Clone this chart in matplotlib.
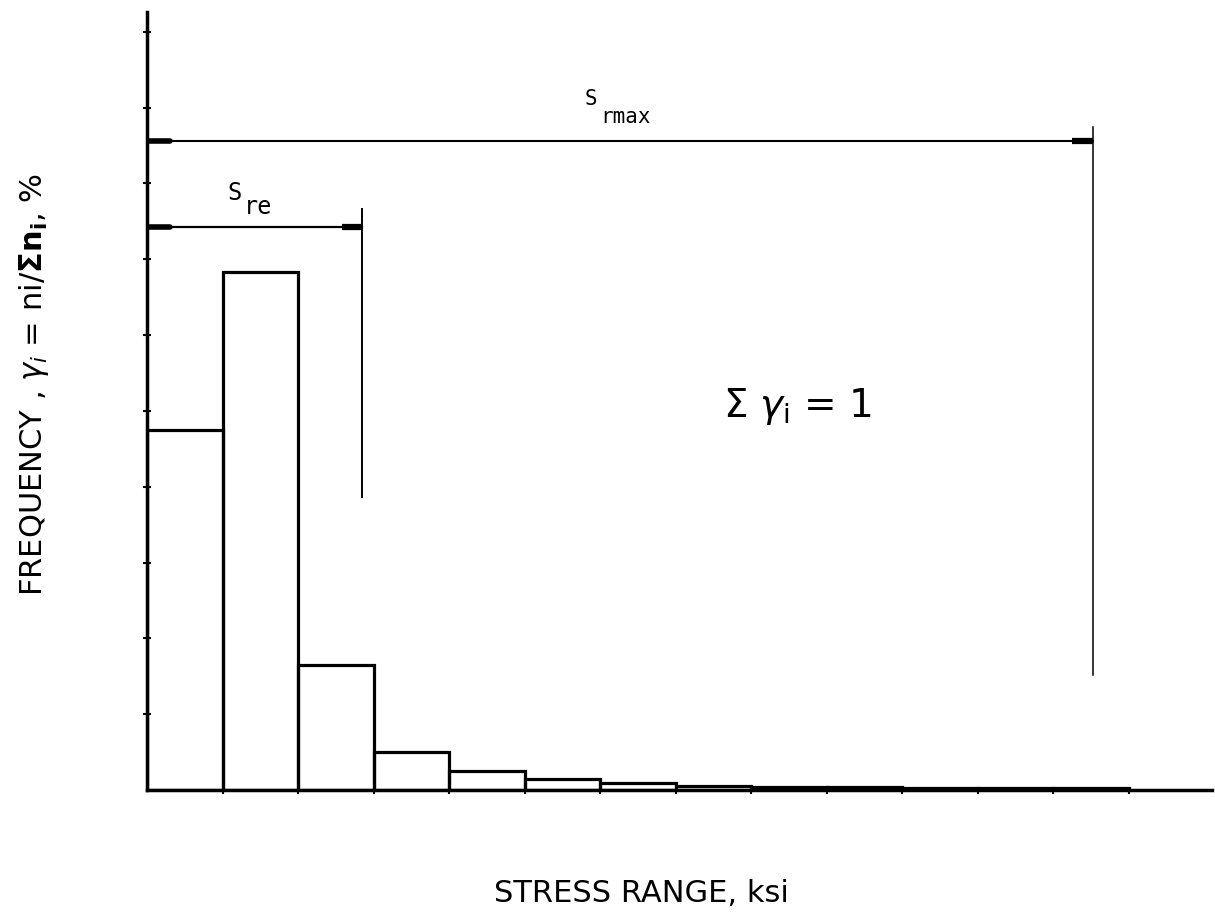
import matplotlib
matplotlib.use('Agg')
import matplotlib.pyplot as plt

# stress range histogram, one bin per tick (ksi units are arbitrary here)
bin_left = [0, 1, 2, 3, 4, 5, 6, 7, 8, 9, 10, 11, 12]
frequency = [4.75, 6.83, 1.65, 0.50, 0.25, 0.14, 0.09, 0.05, 0.04, 0.04, 0.03, 0.03, 0.02]

# effective and maximum stress range markers
s_re = 2.85
s_rmax = 12.52

plt.rcParams['mathtext.fontset'] = 'dejavusans'

fig = plt.figure(figsize=(12.15, 9.17), dpi=100)
ax = fig.add_axes([0.121, 0.1385, 0.8765, 0.8484])

ax.bar(bin_left, frequency, width=1.0, align='edge', fill=False,
       edgecolor='black', linewidth=2.3)

ax.set_xlim(0, 14.1)
ax.set_ylim(0, 10.26)
for side in ['top', 'right']:
    ax.spines[side].set_visible(False)
for side in ['left', 'bottom']:
    ax.spines[side].set_linewidth(2.5)

ax.set_xticks(range(1, 14))
ax.set_yticks(range(1, 11))
ax.set_xticklabels([])
ax.set_yticklabels([])
ax.tick_params(axis='x', direction='out', length=3, width=1.5)
ax.tick_params(axis='y', direction='inout', length=6, width=1.5)

# dimension lines for S_re and S_rmax
y_re, y_rmax = 7.43, 8.56
ax.plot([0, s_re], [y_re, y_re], color='black', lw=1.6)
ax.plot([s_re, s_re], [3.87, 7.66], color='black', lw=1.4)
ax.plot([0, s_rmax], [y_rmax, y_rmax], color='black', lw=1.5)
ax.plot([s_rmax, s_rmax], [1.52, 8.75], color='black', lw=1.1)

# heavy arrow ends
for y, x_end in [(y_re, s_re), (y_rmax, s_rmax)]:
    ax.plot([0.02, 0.3], [y, y], color='black', lw=4, solid_capstyle='round')
    ax.plot([x_end - 0.27, x_end], [y, y], color='black', lw=4.5,
            solid_capstyle='butt')

mono = 'DejaVu Sans Mono'
ax.text(1.06, 7.78, 'S', family=mono, fontsize=17, va='baseline')
ax.text(1.28, 7.59, 're', family=mono, fontsize=17, va='baseline')
ax.text(5.80, 9.04, 'S', family=mono, fontsize=15, va='baseline')
ax.text(6.00, 8.80, 'rmax', family=mono, fontsize=15, va='baseline')

ax.text(7.63, 4.92, 'Σ $\\gamma_\\mathrm{i}$ = 1', fontsize=28, va='baseline')

fig.text(641 / 1215, 1 - 894 / 917, 'STRESS RANGE, ksi', fontsize=22,
         ha='center', va='center')
fig.text(34 / 1215, 1 - 385 / 917,
         'FREQUENCY , $\\gamma_i$ = ni/$\\mathbf{\\Sigma n_i}$, %',
         fontsize=22, rotation=90, ha='center', va='center')

fig.savefig('out.png', dpi=100)
